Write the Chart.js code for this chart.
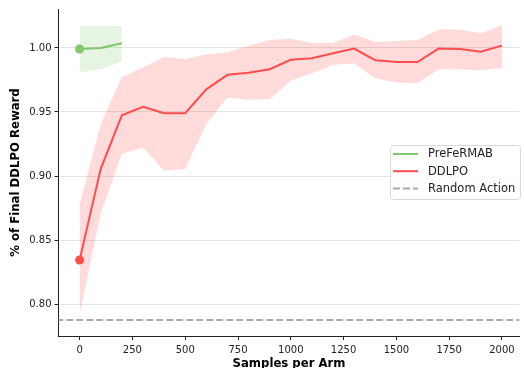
<!DOCTYPE html>
<html>
<head>
<meta charset="utf-8">
<script src="https://cdn.jsdelivr.net/npm/chart.js@4"></script>
<style>
html,body{margin:0;padding:0;background:#fff;}
#wrap{width:524px;height:368px;position:relative;}
</style>
</head>
<body>
<div id="wrap"><canvas id="c" width="524" height="368"></canvas></div>
<script>
const preX = [0, 100, 200];
const preMean = [0.9992, 1.0000, 1.0036];
const preUpper = [1.0172, 1.0172, 1.0170];
const preLower = [0.9810, 0.9834, 0.9897];

const ddX = [0,100,200,300,400,500,600,700,800,900,1000,1100,1200,1300,1400,1500,1600,1700,1800,1900,2000];
const ddMean = [0.8344,0.9056,0.9474,0.9541,0.9490,0.9490,0.9677,0.9790,0.9807,0.9834,0.9907,0.9920,0.9959,0.9995,0.9904,0.9890,0.9890,0.9995,0.9992,0.9971,1.0018];
const ddUpper = [0.8780,0.9406,0.9774,0.9847,0.9930,0.9914,0.9950,0.9964,1.0018,1.0062,1.0072,1.0039,1.0039,1.0107,1.0047,1.0054,1.0062,1.0143,1.0143,1.0115,1.0179];
const ddLower = [0.7917,0.8705,0.9171,0.9223,0.9041,0.9054,0.9406,0.9613,0.9595,0.9600,0.9743,0.9802,0.9867,0.9880,0.9764,0.9730,0.9722,0.9834,0.9834,0.9826,0.9842];

const randomAction = 0.7875;

const yTicks = [0.80, 0.85, 0.90, 0.95, 1.00];
const xTicks = [0, 250, 500, 750, 1000, 1250, 1500, 1750, 2000];

const X_MIN = -100, X_MAX = 2083, Y_MIN = 0.7751, Y_MAX = 1.0304;

const GREEN = 'rgb(128,200,110)';
const GREEN_FILL = 'rgba(128,200,110,0.2)';
const RED = 'rgb(255,77,77)';
const RED_FILL = 'rgba(255,77,77,0.2)';
const GRAY = 'rgb(170,170,170)';

const pts = (xs, ys) => xs.map((x, i) => ({x: x, y: ys[i]}));
const firstOnly = (n, r) => Array.from({length: n}, (_, i) => i === 0 ? r : 0);

const FONT = "'DejaVu Sans', sans-serif";

const legendPlugin = {
  id: 'customLegend',
  afterDraw(chart) {
    const ctx = chart.ctx;
    const x0 = 390.5, y0 = 145.5, w = 130, h = 54;
    ctx.save();
    ctx.fillStyle = 'rgba(255,255,255,0.85)';
    ctx.strokeStyle = '#dadada';
    ctx.lineWidth = 1;
    ctx.beginPath();
    if (ctx.roundRect) ctx.roundRect(x0, y0, w, h, 3); else ctx.rect(x0, y0, w, h);
    ctx.fill(); ctx.stroke();
    const items = [
      {label: 'PreFeRMAB', color: GREEN, dash: []},
      {label: 'DDLPO', color: RED, dash: []},
      {label: 'Random Action', color: GRAY, dash: [7, 3]}
    ];
    ctx.font = "11.5px " + FONT;
    ctx.textBaseline = 'middle';
    items.forEach((it, i) => {
      const yy = 154 + i * 17.2;
      ctx.strokeStyle = it.color;
      ctx.lineWidth = 2;
      ctx.setLineDash(it.dash);
      ctx.beginPath(); ctx.moveTo(393, yy); ctx.lineTo(418, yy); ctx.stroke();
      ctx.setLineDash([]);
      ctx.fillStyle = '#222';
      ctx.fillText(it.label, 428, yy + 0.5);
    });
    ctx.restore();
  }
};

new Chart(document.getElementById('c'), {
  type: 'line',
  data: {
    datasets: [
      {label: 'preUpper', data: pts(preX, preUpper), borderWidth: 0, pointRadius: 0, fill: '+1', backgroundColor: GREEN_FILL, borderColor: 'rgba(0,0,0,0)'},
      {label: 'preLower', data: pts(preX, preLower), borderWidth: 0, pointRadius: 0, fill: false, borderColor: 'rgba(0,0,0,0)'},
      {label: 'ddUpper', data: pts(ddX, ddUpper), borderWidth: 0, pointRadius: 0, fill: '+1', backgroundColor: RED_FILL, borderColor: 'rgba(0,0,0,0)'},
      {label: 'ddLower', data: pts(ddX, ddLower), borderWidth: 0, pointRadius: 0, fill: false, borderColor: 'rgba(0,0,0,0)'},
      {label: 'Random Action', data: pts([X_MIN - 200, X_MAX + 200], [randomAction, randomAction]), borderColor: GRAY, borderWidth: 2, borderDash: [7, 3], pointRadius: 0, fill: false},
      {label: 'PreFeRMAB', data: pts(preX, preMean), borderColor: GREEN, backgroundColor: GREEN, borderWidth: 2, pointRadius: firstOnly(preX.length, 4.5), pointBorderWidth: 0, pointBackgroundColor: GREEN, fill: false},
      {label: 'DDLPO', data: pts(ddX, ddMean), borderColor: RED, backgroundColor: RED, borderWidth: 2, pointRadius: firstOnly(ddX.length, 4.5), pointBorderWidth: 0, pointBackgroundColor: RED, fill: false}
    ]
  },
  options: {
    responsive: false,
    animation: false,
    events: [],
    layout: {padding: {top: 8, right: 0, left: 0, bottom: 0}},
    elements: {line: {tension: 0}},
    plugins: {
      legend: {display: false},
      tooltip: {enabled: false},
      filler: {propagate: false}
    },
    scales: {
      x: {
        type: 'linear',
        min: X_MIN, max: X_MAX,
        afterBuildTicks: s => { s.ticks = xTicks.map(v => ({value: v})); },
        afterFit: s => { s.height = 32; },
        ticks: {color: '#222', font: {family: FONT, size: 10}, padding: 4, maxRotation: 0, autoSkip: false, callback: v => String(v)},
        grid: {display: true, drawOnChartArea: false, drawTicks: true, tickLength: 4, tickColor: '#222'},
        border: {display: true, color: '#222', width: 1},
        title: {display: true, text: 'Samples per Arm', color: '#000', font: {family: FONT, size: 11.7, weight: 'bold'}, padding: {top: 0, bottom: -3}}
      },
      y: {
        type: 'linear',
        min: Y_MIN, max: Y_MAX,
        afterBuildTicks: s => { s.ticks = yTicks.map(v => ({value: v})); },
        afterFit: s => { s.width = 58.5; },
        ticks: {color: '#222', font: {family: FONT, size: 10}, padding: 3, autoSkip: false, callback: v => Number(v).toFixed(2)},
        grid: {display: true, drawOnChartArea: true, color: '#e3e3e3', lineWidth: 1, drawTicks: true, tickLength: 4, tickColor: '#222'},
        border: {display: true, color: '#222', width: 1},
        title: {display: true, text: '% of Final DDLPO Reward', color: '#000', font: {family: FONT, size: 11.7, weight: 'bold'}, padding: {top: 9, bottom: 0}}
      }
    }
  },
  plugins: [legendPlugin]
});
</script>
</body>
</html>
